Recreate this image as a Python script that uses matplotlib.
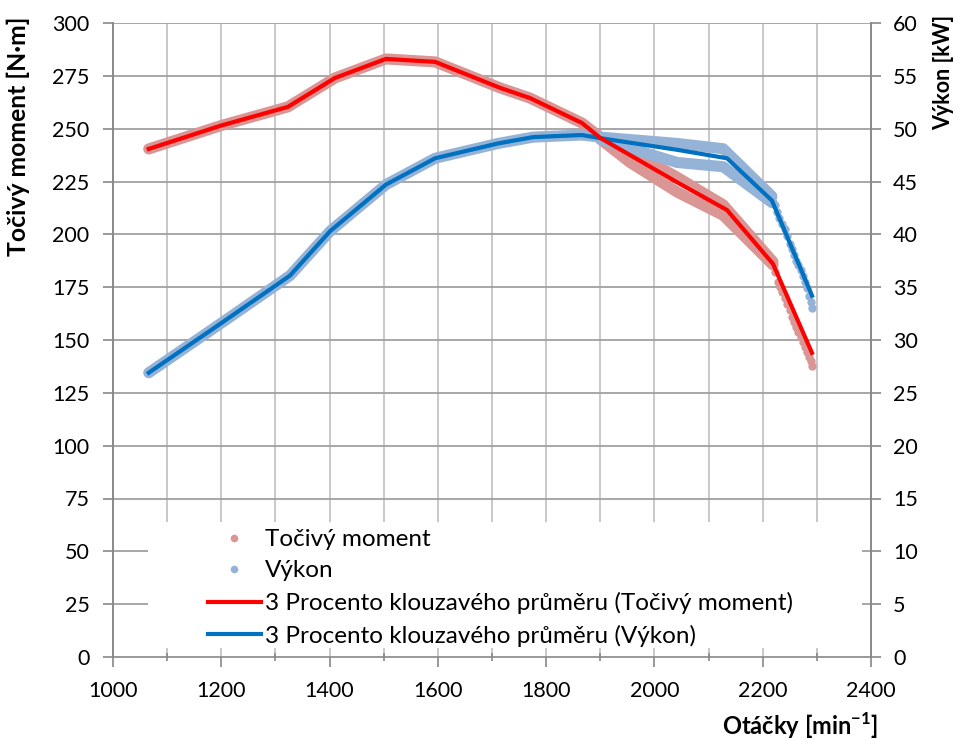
import matplotlib
matplotlib.use("Agg")
import matplotlib.pyplot as plt
from matplotlib.patches import Rectangle
from matplotlib.lines import Line2D

plt.rcParams['font.family'] = ['Lato', 'DejaVu Sans']
plt.rcParams['mathtext.fontset'] = 'custom'
plt.rcParams['mathtext.rm'] = 'Lato:bold'
plt.rcParams['mathtext.bf'] = 'Lato:bold'

# ---------------- data ----------------
# measured points (dense band) - torque [N·m], left axis
torque_rpm = [1066, 1200, 1323, 1410, 1504, 1595, 1715, 1770, 1866, 1900, 1955, 2042, 2127, 2219]
torque_val = [240.4, 251.5, 260.3, 274.0, 283.0, 281.6, 269.3, 264.5, 252.7, 246.0, 239.5, 227.0, 214.0, 187.0]
torque_low_rpm = [1900, 1955, 2042, 2127, 2219]
torque_low_val = [245.0, 234.0, 220.0, 209.0, 185.5]
torque_tail_rpm = [2219, 2223, 2228, 2232, 2236, 2241, 2245, 2250, 2254, 2258,
                   2262, 2266, 2270, 2274, 2278, 2282, 2286, 2289, 2291]
torque_tail_val = [186.5, 182.0, 177.5, 175.0, 172.5, 169.9, 167.0, 164.0, 160.9, 158.5,
                   156.0, 153.8, 151.5, 149.0, 146.7, 144.5, 142.0, 140.0, 137.7]

# measured points - power [kW], right axis
power_rpm = [1066, 1200, 1327, 1401, 1504, 1595, 1711, 1776, 1866, 1900, 2042, 2127, 2217]
power_val = [26.9, 31.6, 36.1, 40.3, 44.7, 47.2, 48.6, 49.2, 49.4, 49.2, 48.6, 48.1, 43.6]
power_low_rpm = [1900, 2042, 2127, 2217]
power_low_val = [49.0, 46.8, 46.4, 43.0]
power_tail_rpm = [2217, 2222, 2226, 2231, 2236, 2241, 2245, 2250, 2254, 2258,
                  2262, 2266, 2270, 2274, 2278, 2282, 2286, 2289, 2291]
power_tail_val = [43.5, 42.8, 42.1, 41.5, 41.0, 40.5, 39.8, 39.1, 38.6, 38.0,
                  37.5, 37.1, 36.6, 36.1, 35.5, 34.9, 34.2, 33.6, 33.0]

# moving averages
ma_torque_rpm = [1066, 1200, 1323, 1410, 1504, 1595, 1715, 1770, 1866, 1900, 1955, 2042, 2134, 2219, 2291]
ma_torque_val = [240.4, 251.5, 260.3, 274.0, 283.0, 281.6, 269.3, 264.5, 252.7, 245.6, 237.5, 224.6, 211.5, 186.0, 143.9]
ma_power_rpm = [1066, 1200, 1327, 1401, 1504, 1595, 1711, 1776, 1866, 1900, 2042, 2134, 2217, 2291]
ma_power_val = [26.9, 31.6, 36.1, 40.3, 44.7, 47.2, 48.6, 49.2, 49.4, 49.1, 48.0, 47.2, 43.2, 34.2]

x_ticks = [1000, 1200, 1400, 1600, 1800, 2000, 2200, 2400]
left_ticks = list(range(0, 301, 25))
right_ticks = list(range(0, 61, 5))

labels = ['Točivý moment', 'Výkon',
          '3 Procento klouzavého průměru (Točivý moment)',
          '3 Procento klouzavého průměru (Výkon)']

# ---------------- style ----------------
RED_PT = '#D99694'
BLUE_PT = '#95B3D7'
RED = '#FF0000'
BLUE = '#0070C0'
GRID_H = '#A0A0A0'
GRID_V = '#C4C4C4'
AX_C = '#888888'
TICK_FS = 15.5

fig = plt.figure(figsize=(9.58, 7.40), dpi=100)
ax = fig.add_axes([113/958, 1-657/740, (871-113)/958, (657-23)/740])
ax2 = ax.twinx()

ax.set_xlim(1000, 2400)
ax.set_ylim(0, 300)
ax2.set_ylim(0, 60)

ax.set_xticks(x_ticks)
ax.set_xticks(list(range(1100, 2400, 200)), minor=True)
ax.set_yticks(left_ticks)
ax2.set_yticks(right_ticks)

# grid
for v in range(1100, 2400, 100):
    ax.axvline(v, color=GRID_V, lw=1.3, zorder=0.5)
for h in left_ticks[1:]:
    ax.axhline(h, color=GRID_H, lw=1.3, zorder=0.6)

band_kw = dict(lw=8, solid_capstyle='round', solid_joinstyle='round', zorder=2)
# torque band
ax.plot(torque_rpm, torque_val, color=RED_PT, **band_kw)
ax.plot(torque_low_rpm, torque_low_val, color=RED_PT, **band_kw)
ax.plot(torque_tail_rpm, torque_tail_val, 'o', color=RED_PT, ms=6, mec='none', zorder=2)
# power band (right axis scale)
t2 = ax2.transData
ax.plot(power_rpm, power_val, color=BLUE_PT, transform=t2, **band_kw)
ax.plot(power_low_rpm, power_low_val, color=BLUE_PT, transform=t2, **band_kw)
ax.plot(power_tail_rpm, power_tail_val, 'o', color=BLUE_PT, ms=6, mec='none', transform=t2, zorder=2.1)
# moving averages
ax.plot(ma_power_rpm, ma_power_val, color=BLUE, lw=3, transform=t2, zorder=4,
        solid_joinstyle='round')
ax.plot(ma_torque_rpm, ma_torque_val, color=RED, lw=3, zorder=4.1,
        solid_joinstyle='round')

# spines
for a in (ax, ax2):
    a.spines['top'].set_visible(False)
    for s in ('left', 'right', 'bottom'):
        a.spines[s].set_color(AX_C)
        a.spines[s].set_linewidth(1.2)
ax2.spines['bottom'].set_visible(False)

ax.tick_params(axis='y', which='major', length=7, width=1.2, color=AX_C,
               labelsize=TICK_FS, pad=10)
ax.tick_params(axis='x', which='major', length=7, width=1.2, color=AX_C,
               labelsize=TICK_FS, pad=10)
ax.tick_params(axis='x', which='minor', length=6, width=1.2, color=AX_C, direction='inout')
ax2.tick_params(axis='y', length=7, width=1.2, color=AX_C, labelsize=TICK_FS, pad=9)

# axis labels (Excel style positions)
fig.text(18/958, 1-17/740, 'Točivý moment [N·m]', rotation=90, ha='center', va='top',
         fontsize=17.8, fontweight='bold')
fig.text(944/958, 1-15/740, 'Výkon [kW]', rotation=90, ha='center', va='top',
         fontsize=15.5, fontweight='bold')
fig.text(878/958, 1-726/740, r'Otáčky [min$^{-1}$]', ha='right', va='center',
         fontsize=17, fontweight='bold')

# legend background
ax.add_patch(Rectangle(((148-113)/758, (657-648)/634), (862-148)/758, (648-522)/634,
                       transform=ax.transAxes, facecolor='white', edgecolor='none', zorder=5))
handles = [Line2D([], [], ls='none', marker='o', color=RED_PT, ms=5.5, mec='none'),
           Line2D([], [], ls='none', marker='o', color=BLUE_PT, ms=5.5, mec='none'),
           Line2D([], [], color=RED, lw=3),
           Line2D([], [], color=BLUE, lw=3)]
leg = ax.legend(handles, labels, loc='upper left', bbox_to_anchor=((208-113)/758, (657-529)/634),
                frameon=False, fontsize=17.5, handlelength=2.18, handletextpad=0.16,
                labelspacing=0.43, borderpad=0, borderaxespad=0)
leg.set_zorder(6)

fig.savefig('out.png', dpi=100)
